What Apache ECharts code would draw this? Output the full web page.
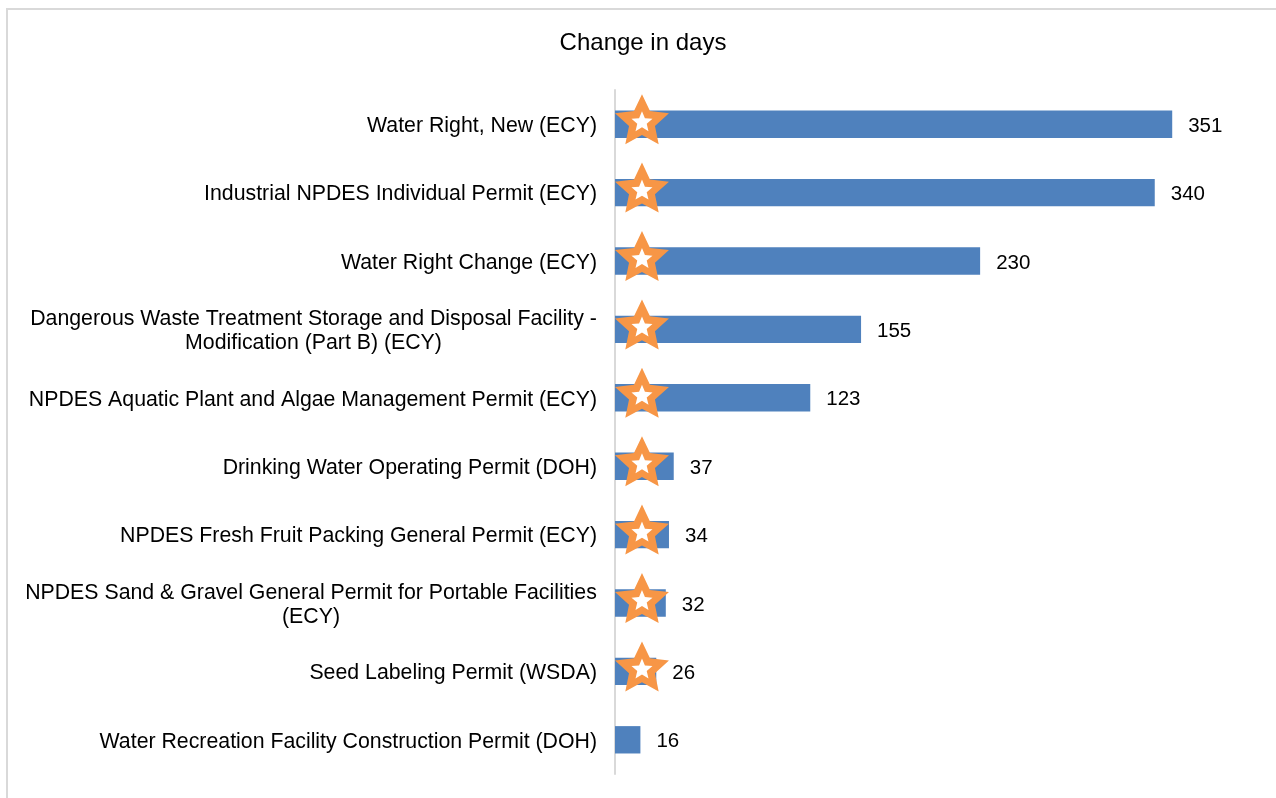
<!DOCTYPE html>
<html>
<head>
<meta charset="utf-8">
<script src="https://cdn.jsdelivr.net/npm/echarts@6/dist/echarts.min.js"></script>
<style>
    html, body { margin: 0; padding: 0; background: #fff; }
    #chart { width: 1276px; height: 798px; }
</style>
</head>
<body>
<div id="chart"></div>
<script>
    // permits, top to bottom
    const categories = [
        'Water Right, New (ECY)',
        'Industrial NPDES Individual Permit (ECY)',
        'Water Right Change (ECY)',
        'Dangerous Waste Treatment Storage and Disposal Facility -\nModification (Part B) (ECY)',
        'NPDES Aquatic Plant and Algae Management Permit (ECY)',
        'Drinking Water Operating Permit (DOH)',
        'NPDES Fresh Fruit Packing General Permit (ECY)',
        'NPDES Sand & Gravel General Permit for Portable Facilities\n(ECY)',
        'Seed Labeling Permit (WSDA)',
        'Water Recreation Facility Construction Permit (DOH)'
    ];
    const changeDays = [351, 340, 230, 155, 123, 37, 34, 32, 26, 16];
    // star markers sit near the start of the bar (null = no star)
    const starPositions = [17, 17, 17, 17, 17, 17, 17, 17, 17, null];

    const font = 'Liberation Sans, Arial, sans-serif';
    const labelSize = 21.3;

    // 5-point star outline as an svg path
    function starPath(ratio) {
        let pts = [];
        for (let i = 0; i < 10; i++) {
            let a = (-90 + 36 * i) * Math.PI / 180;
            let r = i % 2 ? 50 * ratio : 50;
            pts.push((50 + r * Math.cos(a)).toFixed(2) + ' ' + (50 + r * Math.sin(a)).toFixed(2));
        }
        return 'path://M' + pts.join(' L') + ' Z';
    }

    // two-line labels are centred line by line, so give each one a box as wide as its longest line
    const ctx = document.createElement('canvas').getContext('2d');
    ctx.font = labelSize + 'px "Liberation Sans"';
    let rich = {};
    categories.forEach((c, i) => {
        if (c.indexOf('\n') < 0) return;
        let w = Math.max(...c.split('\n').map(l => ctx.measureText(l).width));
        rich['r' + i] = { width: Math.ceil(w), align: 'center', fontFamily: font, fontSize: labelSize, lineHeight: 24, color: '#000' };
    });

    const chart = echarts.init(document.getElementById('chart'));
    chart.setOption({
        animation: false,
        graphic: [{
            type: 'rect',
            shape: { x: 7, y: 9, width: 1400, height: 900 },
            style: { fill: 'none', stroke: '#d9d9d9', lineWidth: 2 },
            silent: true
        }],
        title: {
            text: 'Change in days',
            left: 643,
            textAlign: 'center',
            top: 31,
            padding: 0,
            textStyle: { fontFamily: font, fontSize: 24, fontWeight: 'normal', color: '#000' }
        },
        grid: { left: 615, top: 90, height: 684, right: 26 },
        xAxis: {
            type: 'value',
            min: 0,
            max: 400,
            show: false
        },
        yAxis: {
            type: 'category',
            data: categories,
            inverse: true,
            axisLine: { show: true, lineStyle: { color: '#d9d9d9', width: 2 } },
            axisTick: { show: false },
            axisLabel: {
                margin: 18,
                padding: [4, 0, 0, 0],
                fontFamily: font,
                fontSize: labelSize,
                color: '#000',
                lineHeight: 24,
                formatter: function (v, i) {
                    if (v.indexOf('\n') < 0) return v;
                    return v.split('\n').map(l => '{r' + i + '|' + l + '}').join('\n');
                },
                rich: rich
            }
        },
        series: [
            {
                type: 'bar',
                data: changeDays,
                barCategoryGap: '60%',
                itemStyle: { color: '#4F81BD' },
                label: {
                    show: true,
                    position: 'right',
                    distance: 16,
                    offset: [0, 2],
                    fontFamily: font,
                    fontSize: 20.5,
                    color: '#000'
                }
            },
            {
                type: 'scatter',
                data: starPositions,
                symbol: starPath(0.48),
                symbolSize: [54, 50],
                symbolOffset: [0, -5],
                itemStyle: { color: '#F79646', opacity: 1 },
                z: 5
            },
            {
                type: 'scatter',
                data: starPositions,
                symbol: starPath(0.45),
                symbolSize: [21, 20],
                symbolOffset: [0, -3],
                itemStyle: { color: '#ffffff', opacity: 1 },
                z: 6
            }
        ]
    });
</script>
</body>
</html>
